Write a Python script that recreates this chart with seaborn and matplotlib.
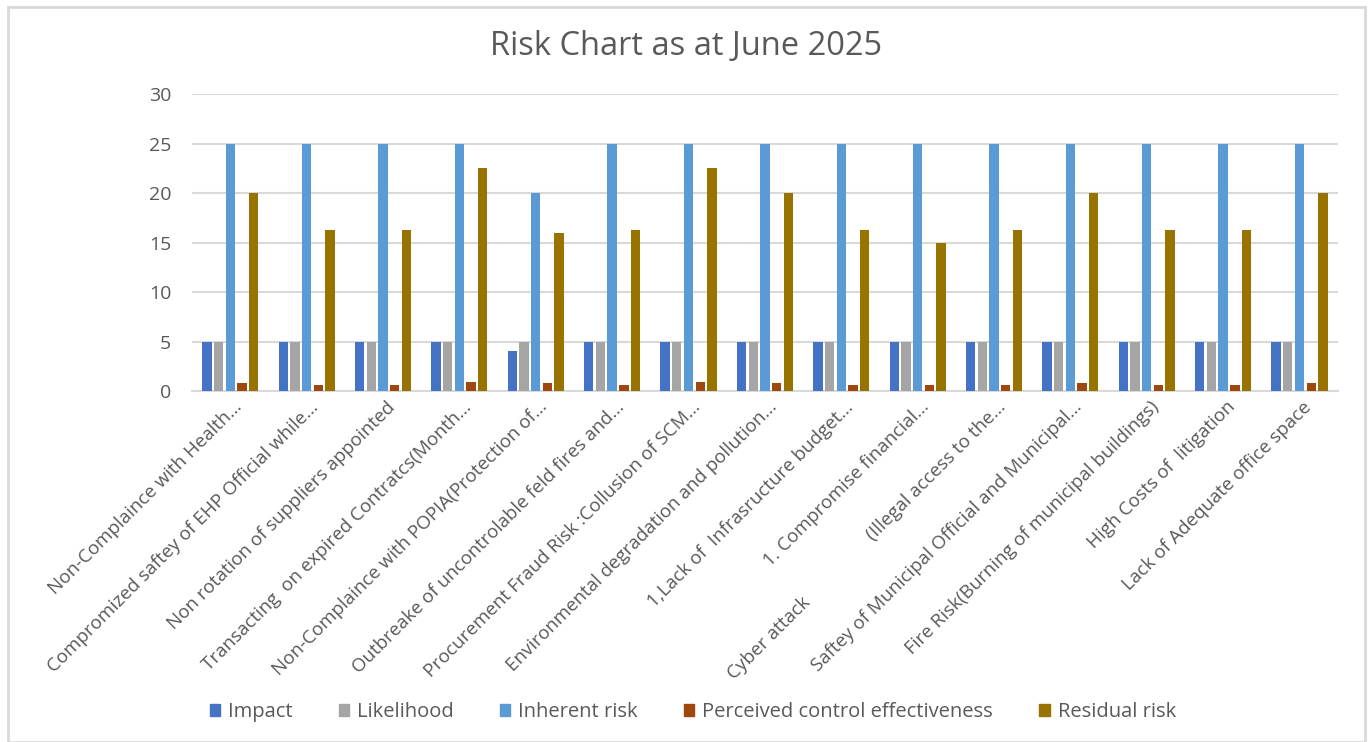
import matplotlib
matplotlib.use("Agg")
import matplotlib.pyplot as plt
import matplotlib.patches as mpatches
import matplotlib.transforms as mtransforms
import seaborn as sns
import pandas as pd

# Risk register items (as captured on the axis)
risks = [
    "Non-Complaince with Health...",
    "Compromized saftey of EHP Official while...",
    "Non rotation of suppliers appointed",
    "Transacting  on expired Contratcs(Month...",
    "Non-Complaince with POPIA(Protection of...",
    "Outbreake of uncontrolable feld fires and...",
    "Procurement Fraud Risk :Collusion of SCM...",
    "Environmental degradation and pollution...",
    "1,Lack of  Infrasructure budget...",
    "1. Compromise financial...",
    "Cyber attack                  (Illegal access to the...",
    "Saftey of Municipal Official and Municipal...",
    "Fire Risk(Burning of municipal buildings)",
    "High Costs of  litigation",
    "Lack of Adequate office space",
]

series_names = ["Impact", "Likelihood", "Inherent risk",
                "Perceived control effectiveness", "Residual risk"]

impact = [5, 5, 5, 5, 4, 5, 5, 5, 5, 5, 5, 5, 5, 5, 5]
likelihood = [5, 5, 5, 5, 5, 5, 5, 5, 5, 5, 5, 5, 5, 5, 5]
inherent_risk = [25, 25, 25, 25, 20, 25, 25, 25, 25, 25, 25, 25, 25, 25, 25]
control_effectiveness = [0.8, 0.65, 0.65, 0.9, 0.8, 0.65, 0.9, 0.8, 0.65,
                         0.6, 0.65, 0.8, 0.65, 0.65, 0.8]
residual_risk = [20, 16.25, 16.25, 22.5, 16, 16.25, 22.5, 20, 16.25,
                 15, 16.25, 20, 16.25, 16.25, 20]

colors = ["#4472C4", "#A5A5A5", "#5B9BD5", "#9E480E", "#997300"]
y_ticks = [0, 5, 10, 15, 20, 25, 30]

# Long-form table for seaborn
frames = []
for name, vals in zip(series_names,
                      [impact, likelihood, inherent_risk,
                       control_effectiveness, residual_risk]):
    frames.append(pd.DataFrame({"risk": risks, "series": name, "value": vals}))
df = pd.concat(frames, ignore_index=True)

sns.set_theme(style="white")
plt.rcParams["font.family"] = ["Open Sans", "DejaVu Sans"]

text_gray = "#595959"
grid_gray = "#D9D9D9"

fig = plt.figure(figsize=(13.72, 7.42), dpi=100)
ax = fig.add_axes([0.140, 0.473, 0.835, 0.400])

sns.barplot(data=df, x="risk", y="value", hue="series",
            hue_order=series_names, order=risks,
            palette=colors, width=0.766, gap=0.2,
            linewidth=0, saturation=1, legend=False, ax=ax, zorder=3)

ax.set_ylim(0, 30)
ax.set_yticks(y_ticks)
ax.set_xlim(-0.5, len(risks) - 0.5)
ax.yaxis.grid(True, color=grid_gray, linewidth=1.5, zorder=0)
ax.set_axisbelow(True)
for side in ["left", "right", "top"]:
    ax.spines[side].set_visible(False)
ax.spines["bottom"].set_color(grid_gray)
ax.spines["bottom"].set_linewidth(1.5)
ax.tick_params(axis="both", length=0, colors=text_gray)
ax.tick_params(axis="y", labelsize=14, pad=15)
ax.tick_params(axis="x", labelsize=13.5, pad=5)
ax.set_xlabel("")
ax.set_ylabel("")
ax.set_xticks(range(len(risks)))
ax.set_xticklabels(risks, rotation=45, ha="right", rotation_mode="anchor",
                   color=text_gray)
shift = mtransforms.ScaledTranslation(2 / 72, 0, fig.dpi_scale_trans)
for lbl in ax.get_xticklabels():
    lbl.set_transform(lbl.get_transform() + shift)

fig.text(0.5, 0.937, "Risk Chart as at June 2025", ha="center", va="center",
         fontsize=23.5, color=text_gray)

handles = [mpatches.Patch(color=c, label=n) for c, n in zip(colors, series_names)]
fig.legend(handles=handles, loc="center", bbox_to_anchor=(0.505, 0.04),
           ncol=5, frameon=False, fontsize=14.5, handlelength=0.5,
           handleheight=0.5, handletextpad=0.4, columnspacing=2.3,
           labelcolor=text_gray)

# Chart-area border
border = mpatches.Rectangle((0.006, 0.0), 0.989, 0.99, transform=fig.transFigure,
                            fill=False, edgecolor=grid_gray, linewidth=2)
fig.add_artist(border)

fig.savefig("out.png", dpi=100, facecolor="white")
